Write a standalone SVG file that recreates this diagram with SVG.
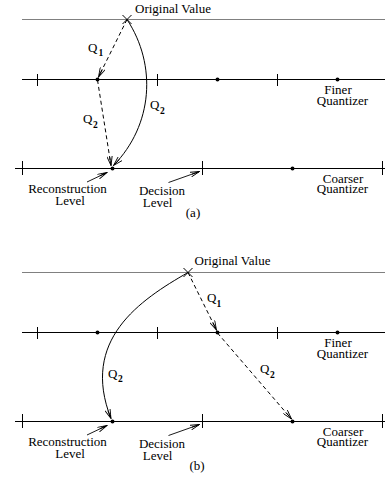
<svg xmlns="http://www.w3.org/2000/svg" width="385" height="485" viewBox="0 0 385 485">
<defs>
<marker id="ah" viewBox="0 0 10 6" refX="9.5" refY="3" markerWidth="10" markerHeight="6" markerUnits="userSpaceOnUse" orient="auto">
<path d="M0,0.3 L9.5,3 L0,5.7 M1,3 L9.5,3" fill="none" stroke="#000" stroke-width="0.9"/>
</marker>
<marker id="ah2" viewBox="0 0 10 6" refX="9.5" refY="3" markerWidth="10" markerHeight="6" markerUnits="userSpaceOnUse" orient="auto">
<path d="M0,0.5 L9.5,3 L0,5.5 M1.5,3 L9.5,3" fill="none" stroke="#000" stroke-width="0.9"/>
</marker>
</defs>
<style>
text{font-family:'Liberation Serif','Times New Roman','DejaVu Serif',serif;font-size:13px;fill:#000}
.c{text-anchor:middle}
.sub{font-size:9.5px;font-weight:bold}
.ref{stroke:#808080;stroke-width:1.2;fill:none}
.ax{stroke:#000;stroke-width:1.1;fill:none}
.tk{stroke:#000;stroke-width:1}
.dash{stroke:#000;stroke-width:1;fill:none;stroke-dasharray:4,3;marker-end:url(#ah)}
.sol{stroke:#000;stroke-width:1;fill:none;marker-end:url(#ah)}
.lbl{stroke:#000;stroke-width:0.9;fill:none;marker-end:url(#ah2)}
</style>

<g id="panel-a" font-family="Liberation Serif, Times New Roman, serif">
<g id="a-original">
<line class="ref" x1="22" y1="19.5" x2="385" y2="19.5"/>
<path d="M122.5,15 L131.5,24 M131.5,15 L122.5,24" class="tk"/>
<text x="135" y="13">Original Value</text>
</g>
<g id="a-finer">
<line class="ax" x1="22" y1="79.5" x2="385" y2="79.5"/>
<line class="tk" x1="37.5" y1="74" x2="37.5" y2="86"/>
<line class="tk" x1="157.5" y1="74" x2="157.5" y2="86"/>
<line class="tk" x1="277.5" y1="74" x2="277.5" y2="86"/>
<circle cx="97.5" cy="79.5" r="2"/>
<circle cx="217.5" cy="79.5" r="2"/>
<circle cx="337.5" cy="79.5" r="2"/>
<text class="c" x="338" y="94">Finer</text>
<text class="c" x="342.5" y="105">Quantizer</text>
</g>
<g id="a-coarser">
<line class="ax" x1="15" y1="168.5" x2="385" y2="168.5"/>
<line class="tk" x1="22.5" y1="161" x2="22.5" y2="175"/>
<line class="tk" x1="202.5" y1="161" x2="202.5" y2="175"/>
<line class="tk" x1="382.5" y1="161" x2="382.5" y2="175"/>
<circle cx="112.5" cy="168.5" r="2"/>
<circle cx="292.5" cy="168.5" r="2"/>
<text class="c" x="343" y="182.5">Coarser</text>
<text class="c" x="342.5" y="193">Quantizer</text>
</g>
<g id="a-recon">
<text class="c" x="67.5" y="193">Reconstruction</text>
<text class="c" x="70" y="205">Level</text>
</g>
<g id="a-decision">
<text class="c" x="162" y="195">Decision</text>
<text class="c" x="157.5" y="207">Level</text>
</g>
<text class="c" x="193" y="217">(a)</text>
<g id="a-connectors">
<line class="dash" x1="127" y1="19.5" x2="98.5" y2="77"/>
<line class="dash" x1="97.5" y1="80" x2="111" y2="165.5"/>
<path class="sol" d="M127,19.5 C157,65 153,125 113.5,165.5"/>
<line class="lbl" x1="87" y1="182" x2="107" y2="172.5"/>
<line class="lbl" x1="168.5" y1="182.5" x2="199.5" y2="171.5"/>
<text x="88" y="52">Q</text><text class="sub" x="98.5" y="56">1</text>
<text x="83" y="123">Q</text><text class="sub" x="93" y="128">2</text>
<text x="150" y="109">Q</text><text class="sub" x="160" y="114">2</text>
</g>
</g>

<g id="panel-b" font-family="Liberation Serif, Times New Roman, serif">
<g id="b-original">
<line class="ref" x1="22" y1="272.5" x2="385" y2="272.5"/>
<path d="M183.5,268 L192.5,277 M192.5,268 L183.5,277" class="tk"/>
<text x="194.5" y="265">Original Value</text>
</g>
<g id="b-finer">
<line class="ax" x1="22" y1="332.5" x2="385" y2="332.5"/>
<line class="tk" x1="37.5" y1="327" x2="37.5" y2="339"/>
<line class="tk" x1="157.5" y1="327" x2="157.5" y2="339"/>
<line class="tk" x1="277.5" y1="327" x2="277.5" y2="339"/>
<circle cx="97.5" cy="332.5" r="2"/>
<circle cx="217.5" cy="332.5" r="2"/>
<circle cx="337.5" cy="332.5" r="2"/>
<text class="c" x="338" y="347">Finer</text>
<text class="c" x="342.5" y="358">Quantizer</text>
</g>
<g id="b-coarser">
<line class="ax" x1="15" y1="421.5" x2="385" y2="421.5"/>
<line class="tk" x1="22.5" y1="414" x2="22.5" y2="428"/>
<line class="tk" x1="202.5" y1="414" x2="202.5" y2="428"/>
<line class="tk" x1="382.5" y1="414" x2="382.5" y2="428"/>
<circle cx="112.5" cy="421.5" r="2"/>
<circle cx="292.5" cy="421.5" r="2"/>
<text class="c" x="343" y="435.5">Coarser</text>
<text class="c" x="342.5" y="446">Quantizer</text>
</g>
<g id="b-recon">
<text class="c" x="67.5" y="446">Reconstruction</text>
<text class="c" x="70" y="458">Level</text>
</g>
<g id="b-decision">
<text class="c" x="162" y="448">Decision</text>
<text class="c" x="157.5" y="460">Level</text>
</g>
<text class="c" x="197" y="470">(b)</text>
<g id="b-connectors">
<line class="dash" x1="188" y1="272.5" x2="216.5" y2="330"/>
<line class="dash" x1="217.5" y1="333" x2="291.5" y2="419"/>
<path class="sol" d="M188,272.5 C140,300 80,340 111,418.5"/>
<line class="lbl" x1="87" y1="435" x2="107" y2="425.5"/>
<line class="lbl" x1="168.5" y1="435.5" x2="199.5" y2="424.5"/>
<text x="207" y="302">Q</text><text class="sub" x="216.5" y="307">1</text>
<text x="108" y="378">Q</text><text class="sub" x="118" y="382">2</text>
<text x="260" y="373">Q</text><text class="sub" x="270" y="378">2</text>
</g>
</g>
</svg>
